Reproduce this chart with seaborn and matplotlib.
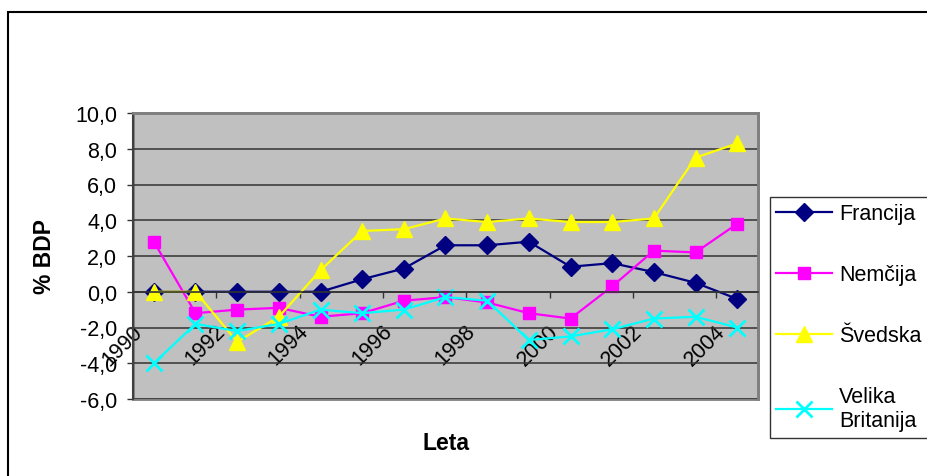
import numpy as np
import pandas as pd
import matplotlib
matplotlib.use("Agg")
import matplotlib.pyplot as plt
import matplotlib.transforms as mtrans
import seaborn as sns

# data (% BDP)
years = list(range(1990, 2005))
francija = [0.0, 0.0, 0.0, 0.0, 0.0, 0.7, 1.3, 2.6, 2.6, 2.8, 1.4, 1.6, 1.1, 0.5, -0.4]
nemcija = [2.8, -1.2, -1.0, -0.9, -1.4, -1.2, -0.5, -0.3, -0.6, -1.2, -1.5, 0.3, 2.3, 2.2, 3.8]
svedska = [0.0, 0.0, -2.8, -1.4, 1.2, 3.4, 3.5, 4.1, 3.9, 4.1, 3.9, 3.9, 4.1, 7.5, 8.3]
velika_britanija = [-4.0, -1.8, -2.2, -1.8, -1.0, -1.2, -1.0, -0.3, -0.5, -2.7, -2.5, -2.1, -1.5, -1.4, -2.0]

series_names = ["Francija", "Nemčija", "Švedska", "Velika\nBritanija"]
series_values = [francija, nemcija, svedska, velika_britanija]
colors = ["#000080", "#FF00FF", "#FFFF00", "#00FFFF"]
markers = ["D", "s", "^", "x"]
msizes = [9, 9, 11, 11]

yticks = [-6, -4, -2, 0, 2, 4, 6, 8, 10]
ytick_labels = ["-6,0", "-4,0", "-2,0", "0,0", "2,0", "4,0", "6,0", "8,0", "10,0"]

plt.rcParams["font.family"] = ["Liberation Sans", "DejaVu Sans"]
fs = 15.5

fig = plt.figure(figsize=(9.28, 4.77), dpi=100)
ax = fig.add_axes([133 / 928, 1 - 400 / 477, 625 / 928, 286 / 477])
ax.set_facecolor("#C0C0C0")
ax.patch.set_edgecolor("#808080")
ax.patch.set_linewidth(2)

idx = np.arange(len(years))
for name, vals, c, m, ms in zip(series_names, series_values, colors, markers, msizes):
    df = pd.DataFrame({"x": idx, "y": vals})
    sns.lineplot(data=df, x="x", y="y", ax=ax, color=c, marker=m, markersize=ms,
                 markeredgecolor=c, markeredgewidth=2 if m == "x" else 1,
                 linewidth=1.6, label=name, legend=False)

ax.set_xlim(-0.5, len(years) - 0.5)
ax.set_ylim(-6, 10)

# y axis
ax.set_yticks(yticks)
ax.set_yticklabels(ytick_labels, fontsize=fs)
ax.tick_params(axis="y", direction="out", length=4.5, width=1, pad=7, color="#333333")
ax.yaxis.grid(True, color="#333333", linewidth=1.1)
ax.set_axisbelow(True)

# x axis sits on zero, labels every other year
ax.spines["bottom"].set_position(("data", 0))
ax.spines["bottom"].set_color("#333333")
ax.spines["bottom"].set_linewidth(1.2)
ax.spines["left"].set_color("#404040")
ax.spines["left"].set_linewidth(1.5)
for s in ["top", "right"]:
    ax.spines[s].set_color("#808080")
    ax.spines[s].set_linewidth(2)

ax.set_xticks(np.arange(1.5, len(years) - 1, 2))
ax.set_xticklabels([])
ax.tick_params(axis="x", which="major", direction="out", length=4.5, width=1, color="#333333")
ax.set_xticks(idx[::2], minor=True)
ax.set_xticklabels([str(y) for y in years[::2]], minor=True, fontsize=fs,
                   rotation=45, rotation_mode="anchor", ha="right", va="center")
ax.tick_params(axis="x", which="minor", length=0, pad=26)
shift = mtrans.ScaledTranslation(-0.15, 0, fig.dpi_scale_trans)
for lab in ax.get_xticklabels(minor=True):
    lab.set_transform(lab.get_transform() + shift)

ax.set_xlabel("Leta", fontsize=16.5, fontweight="bold")
ax.xaxis.label.set_va("center")
ax.xaxis.set_label_coords(0.5, -0.152)
ax.set_ylabel("% BDP", fontsize=16.5, fontweight="bold")
ax.yaxis.label.set_va("center")
ax.yaxis.set_label_coords(-0.141, 0.5)

leg = ax.legend(loc="upper left", bbox_to_anchor=(770 / 928, 1 - 198 / 477),
                bbox_transform=fig.transFigure, fontsize=fs, frameon=True,
                fancybox=False, edgecolor="black", borderpad=0.3, borderaxespad=0,
                handlelength=2.6, handletextpad=0.3, labelspacing=1.85, numpoints=1)
leg.get_frame().set_linewidth(1)

# outer chart frame
fig.add_artist(plt.Rectangle((8 / 928, -0.1), 1.0, 1.1 - 12.5 / 477, transform=fig.transFigure,
                             fill=False, edgecolor="black", linewidth=1.5))

fig.savefig("out.png", dpi=100)
